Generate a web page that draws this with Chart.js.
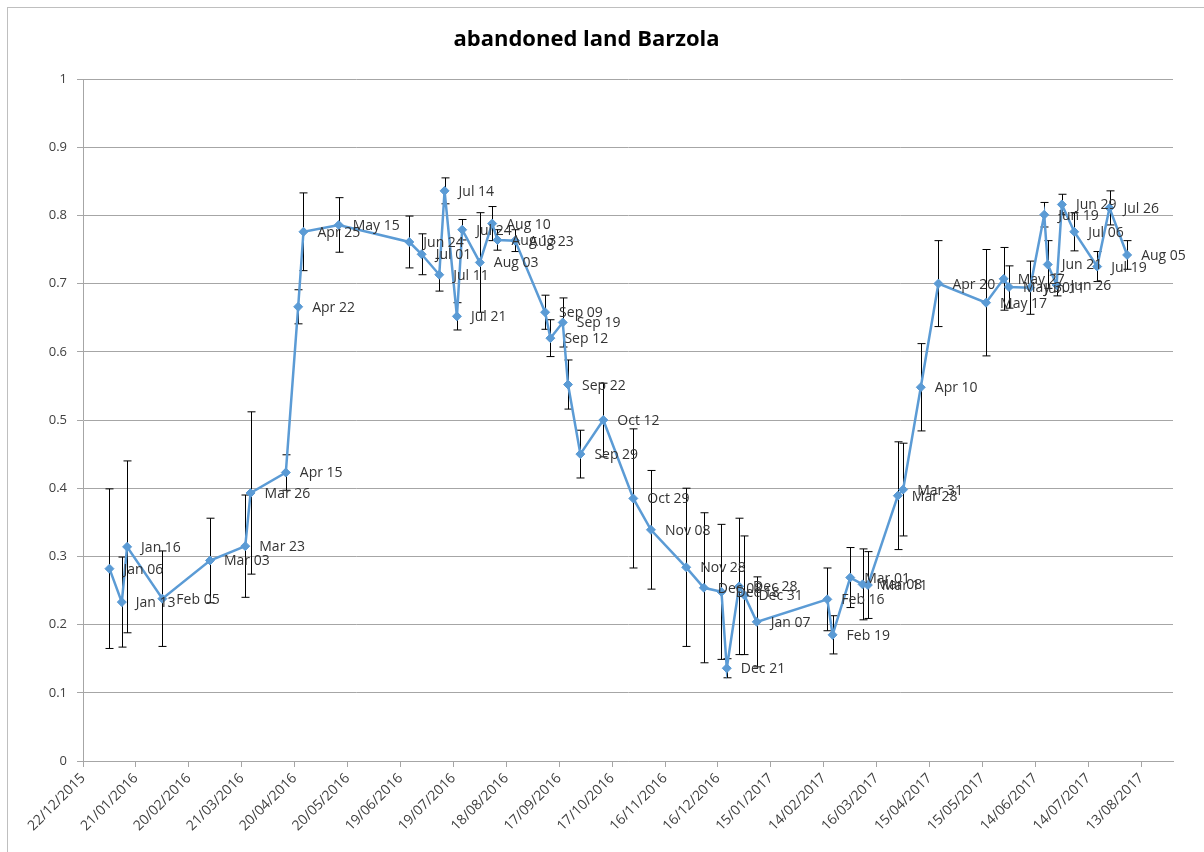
<!DOCTYPE html>
<html>
<head>
<meta charset="utf-8">
<script src="https://cdn.jsdelivr.net/npm/chart.js@4.4.1/dist/chart.umd.min.js"></script>
<style>
  html, body { margin: 0; padding: 0; background: #fff; }
  canvas { display: block; }
</style>
</head>
<body>
<canvas id="chart" width="1204" height="852"></canvas>
<script>
// data (mean index value with +/- error)
const TITLE = 'abandoned land Barzola';
const dates = [
  '2016-01-06', '2016-01-13', '2016-01-16', '2016-02-05', '2016-03-03', '2016-03-23', '2016-03-26', '2016-04-15',
  '2016-04-22', '2016-04-25', '2016-05-15', '2016-06-24', '2016-07-01', '2016-07-11', '2016-07-14', '2016-07-21',
  '2016-07-24', '2016-08-03', '2016-08-10', '2016-08-13', '2016-08-23', '2016-09-09', '2016-09-12', '2016-09-19',
  '2016-09-22', '2016-09-29', '2016-10-12', '2016-10-29', '2016-11-08', '2016-11-28', '2016-12-08', '2016-12-18',
  '2016-12-21', '2016-12-28', '2016-12-31', '2017-01-07', '2017-02-16', '2017-02-19', '2017-03-01', '2017-03-08',
  '2017-03-11', '2017-03-28', '2017-03-31', '2017-04-10', '2017-04-20', '2017-05-17', '2017-05-27', '2017-05-30',
  '2017-06-11', '2017-06-19', '2017-06-21', '2017-06-26', '2017-06-29', '2017-07-06', '2017-07-19', '2017-07-26',
  '2017-08-05'
];
const values = [
  0.282, 0.233, 0.314, 0.238, 0.294, 0.315, 0.393, 0.423,
  0.666, 0.776, 0.786, 0.761, 0.743, 0.713, 0.836, 0.652,
  0.779, 0.731, 0.788, 0.764, 0.763, 0.658, 0.620, 0.643,
  0.552, 0.450, 0.500, 0.385, 0.339, 0.284, 0.254, 0.248,
  0.136, 0.256, 0.243, 0.204, 0.237, 0.185, 0.269, 0.259,
  0.258, 0.389, 0.398, 0.548, 0.700, 0.672, 0.707, 0.695,
  0.694, 0.801, 0.728, 0.698, 0.816, 0.776, 0.725, 0.811,
  0.742
];
const errors = [
  0.117, 0.066, 0.126, 0.070, 0.062, 0.075, 0.119, 0.026,
  0.025, 0.057, 0.040, 0.038, 0.030, 0.024, 0.019, 0.020,
  0.015, 0.073, 0.025, 0.015, 0.016, 0.025, 0.027, 0.036,
  0.036, 0.035, 0.054, 0.102, 0.087, 0.116, 0.110, 0.099,
  0.014, 0.100, 0.087, 0.066, 0.046, 0.028, 0.044, 0.052,
  0.049, 0.079, 0.068, 0.064, 0.063, 0.078, 0.046, 0.031,
  0.039, 0.018, 0.035, 0.016, 0.015, 0.028, 0.022, 0.025,
  0.021
];
// x axis: days counted from the first tick date, one tick every 30 days
const AXIS_START = '2015-12-22';
const AXIS_DAYS = 618;
const TICK_STEP = 30;
const Y_MIN = 0, Y_MAX = 1, Y_STEP = 0.1;

const MONTHS = ['Jan', 'Feb', 'Mar', 'Apr', 'May', 'Jun', 'Jul', 'Aug', 'Sep', 'Oct', 'Nov', 'Dec'];
const DAY_MS = 86400000;
const base = Date.parse(AXIS_START + 'T00:00:00Z');

function dayOf(s) {
  return Math.round((Date.parse(s + 'T00:00:00Z') - base) / DAY_MS);
}
function pad(n) { return (n < 10 ? '0' : '') + n; }
function tickDate(v) {
  const d = new Date(base + v * DAY_MS);
  return pad(d.getUTCDate()) + '/' + pad(d.getUTCMonth() + 1) + '/' + d.getUTCFullYear();
}
function pointLabel(s) {
  const d = new Date(s + 'T00:00:00Z');
  return MONTHS[d.getUTCMonth()] + ' ' + pad(d.getUTCDate());
}

const points = dates.map((d, i) => ({ x: dayOf(d), y: values[i] }));
const FONT = '"Open Sans", "DejaVu Sans", sans-serif';
const BLUE = '#5B9BD5';
const GRID = '#A6A6A6';

// white background + the chart frame (top/left edge visible)
const framePlugin = {
  id: 'frame',
  beforeDraw(chart) {
    const c = chart.ctx;
    c.save();
    c.fillStyle = '#fff';
    c.fillRect(0, 0, chart.width, chart.height);
    c.strokeStyle = '#BFBFBF';
    c.lineWidth = 1;
    c.strokeRect(7.5, 7.5, chart.width + 10, chart.height + 10);
    c.restore();
  }
};

// vertical error bars with caps, drawn under the line
const errorBars = {
  id: 'errorBars',
  beforeDatasetsDraw(chart) {
    const c = chart.ctx;
    const xs = chart.scales.x, ys = chart.scales.y;
    c.save();
    c.strokeStyle = '#000';
    c.lineWidth = 1;
    points.forEach((p, i) => {
      const x = Math.round(xs.getPixelForValue(p.x)) + 0.5;
      const top = ys.getPixelForValue(p.y + errors[i]);
      const bot = ys.getPixelForValue(p.y - errors[i]);
      c.beginPath();
      c.moveTo(x, top); c.lineTo(x, bot);
      c.moveTo(x - 4, top); c.lineTo(x + 4, top);
      c.moveTo(x - 4, bot); c.lineTo(x + 4, bot);
      c.stroke();
    });
    c.restore();
  }
};

// date labels to the right of each point
const dataLabels = {
  id: 'dataLabels',
  afterDatasetsDraw(chart) {
    const c = chart.ctx;
    const meta = chart.getDatasetMeta(0);
    c.save();
    c.font = '14px ' + FONT;
    c.fillStyle = '#333333';
    c.textAlign = 'left';
    c.textBaseline = 'middle';
    meta.data.forEach((el, i) => {
      c.fillText(pointLabel(dates[i]), el.x + 14, el.y + 1);
    });
    c.restore();
  }
};

new Chart(document.getElementById('chart'), {
  type: 'line',
  data: {
    datasets: [{
      data: points,
      borderColor: BLUE,
      backgroundColor: BLUE,
      borderWidth: 2.5,
      pointStyle: 'rectRot',
      pointRadius: 4.5,
      pointBorderWidth: 1,
      tension: 0
    }]
  },
  options: {
    responsive: false,
    animation: false,
    events: [],
    layout: { padding: { left: 0, right: 31, top: 0, bottom: 0 } },
    plugins: {
      legend: { display: false },
      tooltip: { enabled: false },
      title: {
        display: true,
        text: TITLE,
        color: '#000',
        font: { family: FONT, size: 22, weight: 'bold' },
        padding: { top: 27, bottom: 25.6 }
      }
    },
    scales: {
      x: {
        type: 'linear',
        min: 0,
        max: AXIS_DAYS,
        afterFit: s => { s.height = 91; },
        grid: { drawOnChartArea: false, color: GRID, tickLength: 6 },
        border: { color: GRID },
        ticks: {
          stepSize: TICK_STEP,
          includeBounds: false,
          autoSkip: false,
          minRotation: 45,
          maxRotation: 45,
          padding: 3,
          color: '#404040',
          font: { family: FONT, size: 14 },
          callback: v => tickDate(v)
        }
      },
      y: {
        min: Y_MIN,
        max: Y_MAX,
        afterFit: s => { s.width = 83; },
        grid: { color: GRID, tickLength: 6 },
        border: { color: GRID },
        ticks: {
          stepSize: Y_STEP,
          padding: 10,
          color: '#404040',
          font: { family: FONT, size: 13 },
          callback: v => String(Math.round(v * 10) / 10)
        }
      }
    }
  },
  plugins: [framePlugin, errorBars, dataLabels]
});
</script>
</body>
</html>
